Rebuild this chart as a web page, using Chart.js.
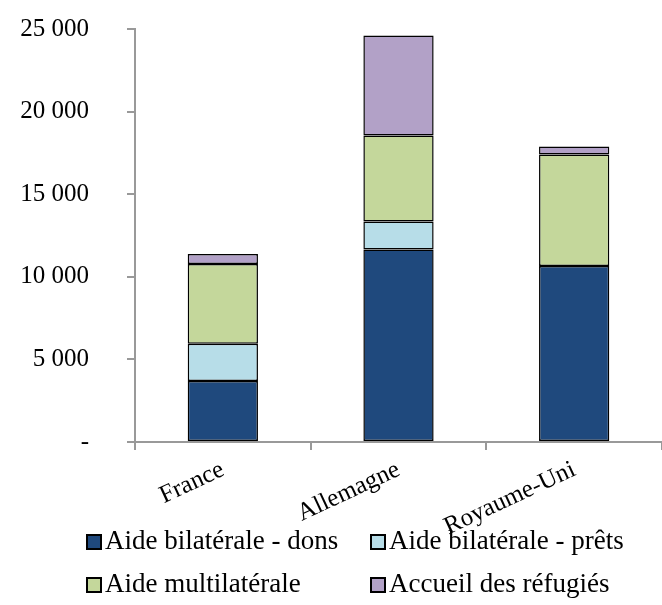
<!DOCTYPE html>
<html>
<head>
<meta charset="utf-8">
<script src="https://cdn.jsdelivr.net/npm/chart.js@4"></script>
<style>
  html, body { margin: 0; padding: 0; background: #fff; }
  #wrap { position: relative; width: 662px; height: 605px; }
  #box { position: absolute; left: 0; top: 0; width: 662px; height: 548px; }
  #legend { position: absolute; left: 86px; top: 525px; width: 576px;
    display: grid; grid-template-columns: 284px 292px; row-gap: 12px;
    font-family: "Liberation Serif", serif; font-size: 27px; line-height: 31px; color: #000; }
  #legend span.sw { display: inline-block; width: 16px; height: 16px; border: 2px solid #000;
    margin-right: 3px; vertical-align: -1px; box-sizing: border-box; }
</style>
</head>
<body>
<div id="wrap">
  <div id="box"><canvas id="c"></canvas></div>
  <div id="legend"></div>
</div>
<script>
const countries = ["France", "Allemagne", "Royaume-Uni"];
const seriesNames = ["Aide bilatérale - dons", "Aide bilatérale - prêts", "Aide multilatérale", "Accueil des réfugiés"];
const dons = [3700, 11650, 10650];
const prets = [2250, 1700, null];
const multi = [4830, 5200, 6750];
const refugies = [600, 6050, 480];
const colors = ["#1f497d", "#b7dde8", "#c4d79b", "#b2a1c7"];
const yTicks = [0, 5000, 10000, 15000, 20000, 25000];

const values = [dons, prets, multi, refugies];
const font = "'Liberation Serif', serif";

function fmt(v) {
  if (v === 0) return "-";
  return String(v).replace(/\B(?=(\d{3})+(?!\d))/g, " ");
}

new Chart(document.getElementById("c"), {
  type: "bar",
  data: {
    labels: countries,
    datasets: seriesNames.map((name, i) => ({
      label: name,
      data: values[i],
      backgroundColor: colors[i],
      borderColor: "#000",
      borderWidth: 1.5,
      borderSkipped: false,
      barPercentage: 0.4,
      categoryPercentage: 1,
    })),
  },
  options: {
    responsive: true,
    maintainAspectRatio: false,
    animation: false,
    layout: { padding: { top: 29, right: 0, left: 15, bottom: 0 } },
    plugins: { legend: { display: false }, tooltip: { enabled: false } },
    scales: {
      x: {
        stacked: true,
        offset: true,
        grid: { offset: true, drawOnChartArea: false, color: "#999", lineWidth: 2, tickLength: 8 },
        border: { color: "#999", width: 2 },
        ticks: { color: "#000", font: { family: font, size: 25 }, minRotation: 25, maxRotation: 25, padding: 5 },
        afterFit: (axis) => { axis.height = 106; axis.paddingLeft = 0; axis.paddingRight = 0; },
      },
      y: {
        stacked: true,
        min: 0,
        max: 25000,
        afterBuildTicks: (axis) => { axis.ticks = yTicks.map((v) => ({ value: v })); },
        grid: { drawOnChartArea: false, color: "#999", lineWidth: 2, tickLength: 8 },
        border: { color: "#999", width: 2 },
        ticks: { color: "#000", font: { family: font, size: 25 }, padding: 38, callback: (v) => fmt(v) },
        afterFit: (axis) => { axis.width = 120; axis.paddingTop = 0; axis.paddingBottom = 0; },
      },
    },
  },
});

const legend = document.getElementById("legend");
seriesNames.forEach((name, i) => {
  const item = document.createElement("div");
  item.innerHTML = `<span class="sw" style="background:${colors[i]}"></span>${name}`;
  legend.appendChild(item);
});
</script>
</body>
</html>
